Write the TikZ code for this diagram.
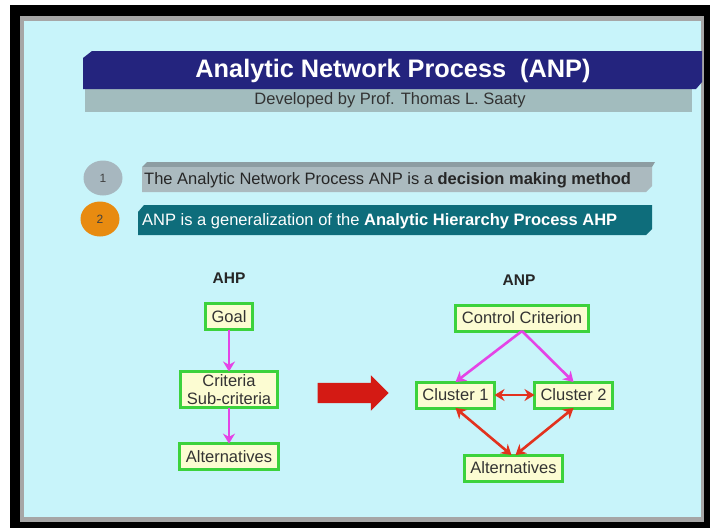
\documentclass[tikz,border=0pt]{standalone}
\usepackage{fontspec}
\setmainfont{Liberation Sans}
\usepackage{tikz}
\usetikzlibrary{shapes,arrows.meta,positioning}
\definecolor{slidecyan}{HTML}{C8F4FA}
\definecolor{titlenavy}{HTML}{24247E}
\definecolor{subgrey}{HTML}{A2BCBE}
\definecolor{bargrey}{HTML}{ABBABF}
\definecolor{bartop}{HTML}{8D9DA2}
\definecolor{barteal}{HTML}{0E6D7B}
\definecolor{dotgrey}{HTML}{A7B7BF}
\definecolor{dotorange}{HTML}{E88B10}
\definecolor{boxgreen}{HTML}{3CD23C}
\definecolor{boxfill}{HTML}{FCFCD2}
\definecolor{linkpink}{HTML}{E444E6}
\definecolor{linkred}{HTML}{E2321E}
\definecolor{bigred}{HTML}{D41A14}
\tikzset{
  box/.style = {draw=boxgreen, line width=3pt, fill=boxfill, align=center,
    font=\fontsize{16.5}{18}\selectfont, text=black!80, inner xsep=6pt,
    inner ysep=3pt, outer sep=0pt, minimum height=26pt},% green framed box
  head/.style = {font=\bfseries\fontsize{15.5}{18}\selectfont, text=black!85},
  pinklink/.style = {draw=linkpink, line width=2.6pt,
    -{Stealth[length=10pt,width=12pt]}},
  redlink/.style = {draw=linkred, line width=2.6pt,
    {Stealth[length=10pt,width=12pt]}-{Stealth[length=10pt,width=12pt]}},
  dot/.style = {ellipse, inner sep=0pt, minimum width=39pt, minimum height=35pt,
    font=\fontsize{12}{14}\selectfont, text=black!75},% numbered bullet
  bartext/.style = {anchor=west, inner sep=0pt, font=\fontsize{16.5}{18}\selectfont}
}
\begin{document}
\begin{tikzpicture}[x=1pt,y=-1pt]
        \useasboundingbox (0,0) rectangle (710,528);
        \fill[white] (0,0) rectangle (710,528);
        \fill[black] (10,5) rectangle (710,528);
        \fill[gray!70] (20,16) rectangle (704,522);
        \fill[slidecyan] (24,21) rectangle (701,517);
        % title banner
        \fill[subgrey] (85,89) rectangle (692,112);
        \fill[titlenavy] (83,58) -- (92,51) -- (702,51) -- (702,82) -- (696,89) -- (83,89) -- cycle;
        \node [font=\bfseries\fontsize{25.3}{28}\selectfont, text=white] (title) at (393,71) {Analytic Network Process~ (ANP)};
        \node [font=\fontsize{16.5}{18}\selectfont, text=black!80] (sub) at (390,100) {Developed by Prof. Thomas L. Saaty};
        % bullet bars
        \fill[bartop] (142,167) -- (147,162) -- (655,162) -- (652,167) -- cycle;
        \fill[bargrey] (142,167) -- (652,167) -- (652,186) -- (646,192) -- (142,192) -- cycle;
        \fill[barteal] (138,212) -- (144,205) -- (652,205) -- (652,229) -- (646,235) -- (138,235) -- cycle;
        \node [dot, fill=dotgrey] (one) at (103,178) {1};
        \node [dot, fill=dotorange] (two) at (100,219) {2};
        \node [bartext, text=black!85] (lineone) at (144,180) {The Analytic Network Process ANP is a \textbf{decision making method}};
        \node [bartext, text=white] (linetwo) at (142,221) {ANP is a generalization of the \textbf{Analytic Hierarchy Process AHP}};
        % AHP
        \node [head] (ahp) at (229,278) {AHP};
        \node [box] (goal) at (229,316.5) {Goal};
        \node [box, below=42pt of goal] (crit) {Criteria\\Sub-criteria};
        \node [box, below=36pt of crit] (altA) {Alternatives};
        \draw [pinklink] (goal) -- (crit);
        \draw [pinklink] (crit) -- (altA);
        \node [single arrow, fill=bigred, inner xsep=0pt, inner ysep=10pt, minimum height=71pt,
               single arrow head extend=7.5pt] (shift) at (348,393) {};
        % ANP
        \node [head] (anp) at (519,280) {ANP};
        \node [box] (ctrl) at (522,318) {Control Criterion};
        \node [box] (cl1) at (455.5,395) {Cluster 1};
        \node [box, right=40pt of cl1] (cl2) {Cluster 2};
        \node [box] (altN) at (513.5,468) {Alternatives};
        \draw [pinklink] (ctrl.south) -- (cl1.north);
        \draw [pinklink] (ctrl.south) -- (cl2.north);
        \draw [redlink] (cl1) -- (cl2);
        \draw [redlink] (cl1.south) -- ([xshift=-2pt]altN.north);
        \draw [redlink] (cl2.south) -- ([xshift=2pt]altN.north);
\end{tikzpicture}
\end{document}
